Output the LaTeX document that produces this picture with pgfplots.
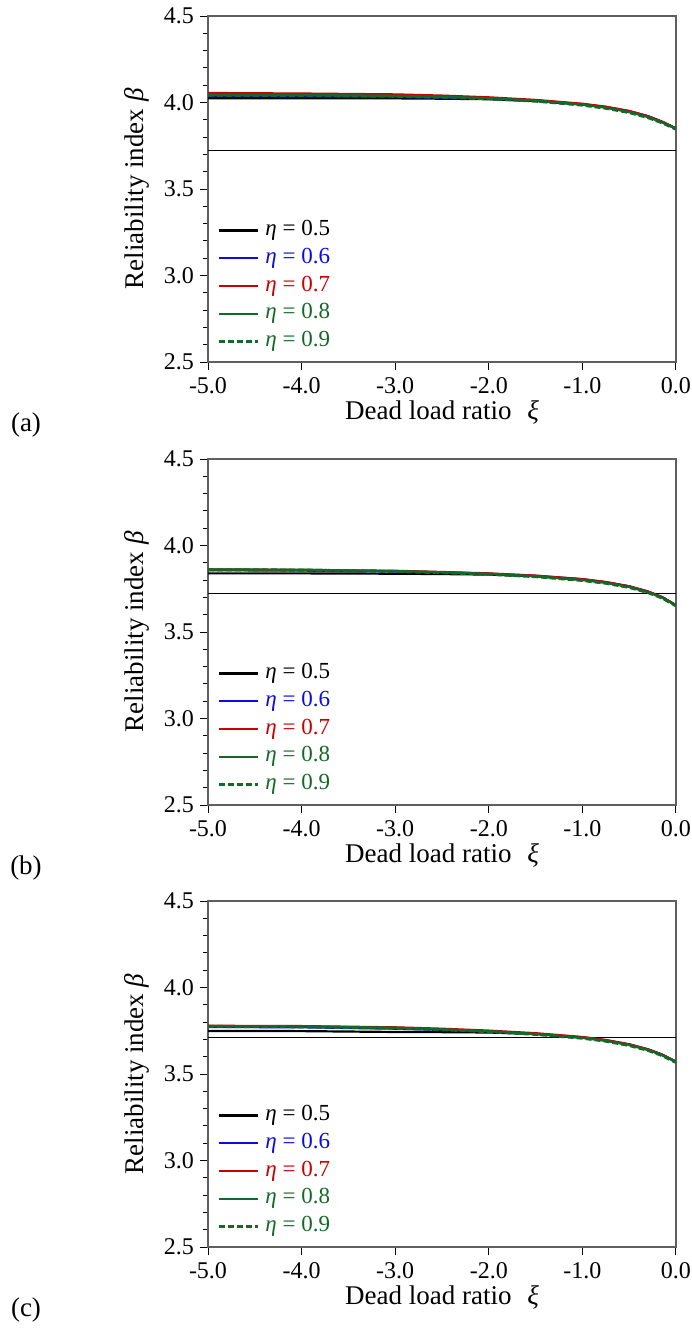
\documentclass[border=0pt]{standalone}
\usepackage{fontspec}
\setmainfont{Liberation Serif}
\usepackage{pgfplots}
\pgfplotsset{compat=1.18}
\definecolor{cblue}{RGB}{10,10,230}
\definecolor{cred}{RGB}{200,0,0}
\definecolor{cgreen}{RGB}{20,105,40}
\definecolor{axgray}{RGB}{95,95,95}
\pgfplotsset{
  panel/.style={
    scale only axis, width=234pt, height=173pt,
    xmin=-5, xmax=0, ymin=2.5, ymax=4.5,
    xtick={-5,-4,-3,-2,-1,0}, xticklabels={-5.0,-4.0,-3.0,-2.0,-1.0,0.0},
    ytick={2.5,3,3.5,4,4.5}, yticklabels={2.5,3.0,3.5,4.0,4.5},
    minor y tick num=4,
    tick pos=left, tick align=outside,
    major tick length=4pt, minor tick length=2.5pt,
    axis line style={axgray, line width=0.7pt},
    every tick/.style={black, line width=0.5pt},
    ticklabel style={font=\fontsize{12}{14}\selectfont},
    yticklabel style={xshift=0.5pt},
    legend style={at={(rel axis cs:0,0)}, anchor=south west, xshift=4.5pt, yshift=5pt,
      draw=none, fill=none, inner sep=0pt, row sep=3.9pt,
      font=\fontsize{11.5}{13}\selectfont,
      nodes={inner sep=0pt, text height=7.5pt, text depth=2.5pt},
      cells={anchor=west}},
    legend image code/.code={\draw[#1] (0pt,0pt) -- (19.5pt,0pt);},
    every axis legend/.append style={column sep=3pt},
  },
  bk/.style={black, line width=1.1pt},
  bl/.style={cblue, line width=1.1pt},
  rd/.style={cred, line width=1.1pt},
  gn/.style={cgreen, line width=1.1pt},
  gd/.style={cgreen, line width=1.5pt, dash pattern=on 3pt off 1.5pt},
}
\newcommand{\legs}{%
  \addlegendentry{\textit{η} = 0.5}
  \addlegendentry{\textcolor{cblue}{\textit{η} = 0.6}}
  \addlegendentry{\textcolor{cred}{\textit{η} = 0.7}}
  \addlegendentry{\textcolor{cgreen}{\textit{η} = 0.8}}
  \addlegendentry{\textcolor{cgreen}{\textit{η} = 0.9}}
}
\begin{document}
\begin{tikzpicture}
\path[use as bounding box] (0pt,0pt) rectangle (345.5pt,-664pt);
% ---------------- (a)
\begin{axis}[panel, at={(104pt,-181pt)}, anchor=south west]
\addplot[black, line width=0.5pt, forget plot] coordinates {(-5,3.725) (0,3.725)};
\addplot[bk] coordinates {(-5,4.025) (-4,4.025) (-3,4.024) (-2.5,4.022) (-2,4.019) (-1.5,4.008) (-1,3.988) (-0.75,3.972) (-0.5,3.948) (-0.3,3.92) (-0.15,3.889) (0,3.85)};
\addplot[bl] coordinates {(-5,4.036) (-4,4.035) (-3,4.032) (-2.5,4.028) (-2,4.022) (-1.5,4.011) (-1,3.99) (-0.75,3.974) (-0.5,3.95) (-0.3,3.921) (-0.15,3.889) (0,3.85)};
\addplot[rd] coordinates {(-5,4.055) (-4,4.052) (-3,4.047) (-2.5,4.04) (-2,4.03) (-1.5,4.015) (-1,3.993) (-0.75,3.976) (-0.5,3.951) (-0.3,3.921) (-0.15,3.889) (0,3.85)};
\addplot[gn] coordinates {(-5,4.044) (-4,4.043) (-3,4.038) (-2.5,4.033) (-2,4.025) (-1.5,4.011) (-1,3.988) (-0.75,3.97) (-0.5,3.945) (-0.3,3.916) (-0.15,3.885) (0,3.848)};
\addplot[gd] coordinates {(-5,4.042) (-4,4.041) (-3,4.036) (-2.5,4.03) (-2,4.022) (-1.5,4.008) (-1,3.985) (-0.75,3.967) (-0.5,3.942) (-0.3,3.913) (-0.15,3.883) (0,3.846)};
\legs
\end{axis}
% ---------------- (b)
\begin{axis}[panel, at={(104pt,-402.5pt)}, anchor=south west]
\addplot[black, line width=0.5pt, forget plot] coordinates {(-5,3.72) (0,3.72)};
\addplot[bk] coordinates {(-5,3.839) (-4,3.839) (-3,3.837) (-2.5,3.835) (-2,3.832) (-1.5,3.822) (-1,3.803) (-0.75,3.787) (-0.5,3.763) (-0.3,3.733) (-0.15,3.702) (0,3.655)};
\addplot[bl] coordinates {(-5,3.857) (-4,3.855) (-3,3.85) (-2.5,3.845) (-2,3.837) (-1.5,3.825) (-1,3.805) (-0.75,3.788) (-0.5,3.764) (-0.3,3.734) (-0.15,3.702) (0,3.655)};
\addplot[rd] coordinates {(-5,3.862) (-4,3.859) (-3,3.854) (-2.5,3.847) (-2,3.839) (-1.5,3.826) (-1,3.806) (-0.75,3.789) (-0.5,3.764) (-0.3,3.734) (-0.15,3.702) (0,3.655)};
\addplot[gn] coordinates {(-5,3.862) (-4,3.86) (-3,3.852) (-2.5,3.845) (-2,3.836) (-1.5,3.822) (-1,3.8) (-0.75,3.784) (-0.5,3.76) (-0.3,3.73) (-0.15,3.699) (0,3.653)};
\addplot[gd] coordinates {(-5,3.86) (-4,3.858) (-3,3.85) (-2.5,3.843) (-2,3.834) (-1.5,3.82) (-1,3.798) (-0.75,3.782) (-0.5,3.758) (-0.3,3.728) (-0.15,3.697) (0,3.651)};
\legs
\end{axis}
% ---------------- (c)
\begin{axis}[panel, at={(104pt,-623.5pt)}, anchor=south west]
\addplot[black, line width=0.5pt, forget plot] coordinates {(-5,3.712) (0,3.712)};
\addplot[bk] coordinates {(-5,3.749) (-4,3.748) (-3,3.743) (-2.5,3.742) (-2,3.74) (-1.5,3.731) (-1,3.71) (-0.75,3.694) (-0.5,3.67) (-0.3,3.642) (-0.15,3.612) (0,3.571)};
\addplot[bl] coordinates {(-5,3.772) (-4,3.77) (-3,3.762) (-2.5,3.755) (-2,3.746) (-1.5,3.733) (-1,3.712) (-0.75,3.695) (-0.5,3.671) (-0.3,3.642) (-0.15,3.612) (0,3.571)};
\addplot[rd] coordinates {(-5,3.779) (-4,3.777) (-3,3.77) (-2.5,3.762) (-2,3.751) (-1.5,3.736) (-1,3.714) (-0.75,3.697) (-0.5,3.672) (-0.3,3.643) (-0.15,3.613) (0,3.571)};
\addplot[gn] coordinates {(-5,3.777) (-4,3.775) (-3,3.767) (-2.5,3.758) (-2,3.747) (-1.5,3.731) (-1,3.709) (-0.75,3.692) (-0.5,3.667) (-0.3,3.639) (-0.15,3.609) (0,3.569)};
\addplot[gd] coordinates {(-5,3.775) (-4,3.773) (-3,3.765) (-2.5,3.756) (-2,3.745) (-1.5,3.729) (-1,3.707) (-0.75,3.69) (-0.5,3.665) (-0.3,3.637) (-0.15,3.607) (0,3.567)};
\legs
\end{axis}
% ---------------- labels
\foreach \b/\lab in {181/a,402.5/b,623.5/c}{
  \node[rotate=90, font=\fontsize{13.5}{16}\selectfont] at (68.5pt,{-(\b-86.5)*1pt}) {Reliability index \textit{β}};
  \node[font=\fontsize{13.5}{16}\selectfont] at (221pt,{-(\b+25)*1pt}) {Dead load ratio\,\, \textit{ξ}};
  \node[font=\fontsize{13.5}{16}\selectfont] at (13pt,{-(\b+31.5)*1pt}) {(\lab)};
}
\end{tikzpicture}
\end{document}
